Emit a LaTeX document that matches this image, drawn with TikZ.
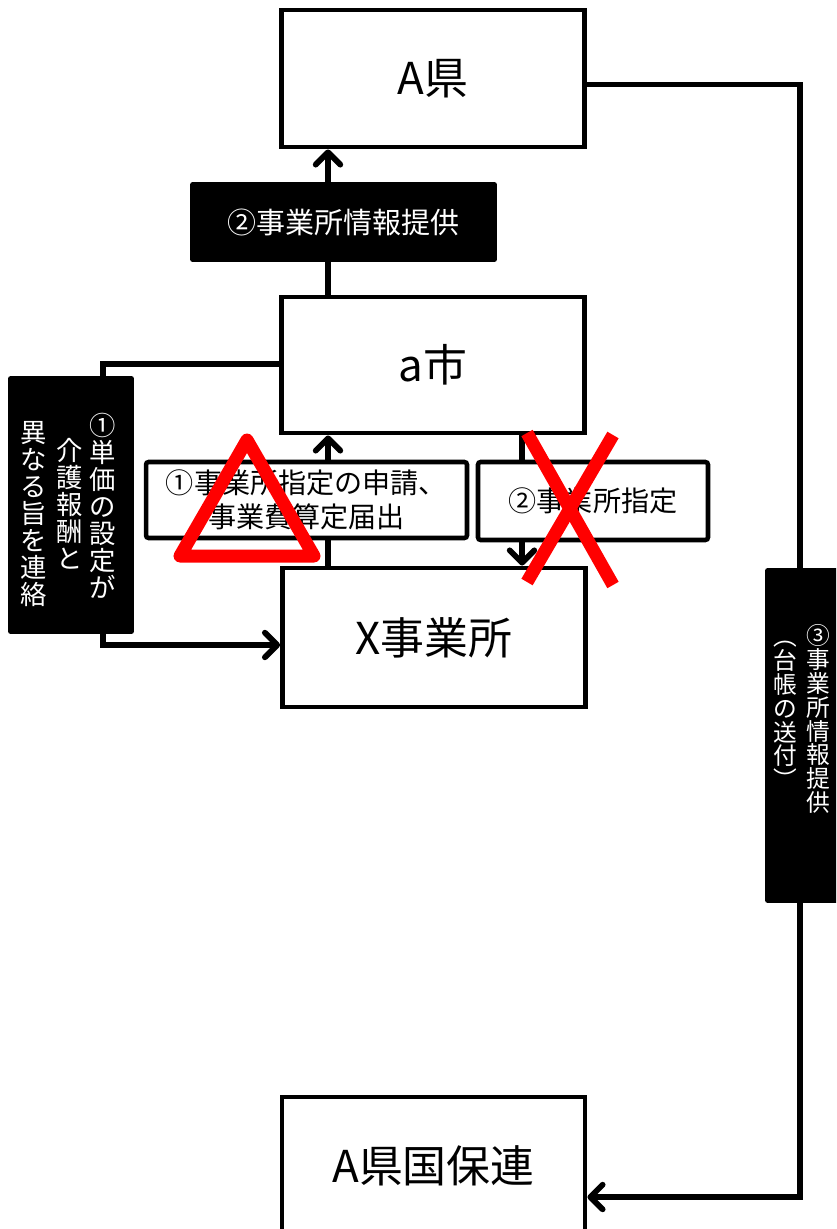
\documentclass[tikz,border=0pt]{standalone}
\usepackage{fontspec}
\setmainfont{Noto Sans CJK JP}
\usetikzlibrary{arrows.meta, calc, backgrounds}

\tikzset{
  box/.style={draw, line width=2.8pt, fill=white, minimum width=6.06cm, inner sep=0pt, font=\fontsize{25}{30}\selectfont},
  lbl/.style={draw, line width=2.6pt, fill=white, rounded corners=1.5pt, inner sep=0pt, align=center, font=\fontsize{16}{19.3}\selectfont},
  blk/.style={fill=black, text=white, rounded corners=1.5pt, inner sep=0pt},
  tate/.style={text=white, align=center, inner sep=0pt},
  conn/.style={line width=3.3pt},
  arr/.style={conn, -{Straight Barb[length=7pt,width=14pt,round]}},
  ng/.style={red, line width=7.4pt}
}

\begin{document}
\begin{tikzpicture}[x=0.02cm, y=-0.02cm]
\useasboundingbox (0,0) rectangle (836,1229);
\clip (0,0) rectangle (836,1229);

\node[box, minimum height=2.74cm] (ken) at (433,78.5) {A県};
\node[box, minimum height=2.72cm] (ashi) at (433,365) {a市};
\node[box, minimum height=2.78cm] (xjig) at (434,637.5) {X事業所};
\node[box, minimum height=2.76cm] (kokuho) at (433.5,1166) {A県国保連};

\node[blk, minimum width=6.14cm, minimum height=1.6cm, font=\fontsize{16.5}{20}\selectfont] (info) at (343.5,222) {②事業所情報提供};
\node[lbl, minimum width=6.42cm, minimum height=1.52cm] (shinsei) at (306.5,500) {①事業所指定の申請、\\事業費算定届出};
\node[lbl, minimum width=4.6cm, minimum height=1.56cm] (shitei) at (593,501) {②事業所指定};

\node[blk, minimum width=2.52cm, minimum height=5.16cm] (renraku) at (71,505) {};
\node[tate, font=\fontsize{15}{15.4}\selectfont] (renraku1) at (103,506) {①\\単\\価\\の\\設\\定\\が};
\node[tate, font=\fontsize{15}{15.4}\selectfont] (renraku2) at (70,504) {介\\護\\報\\酬\\と};
\node[tate, font=\fontsize{15}{15.4}\selectfont] (renraku3) at (34,514) {異\\な\\る\\旨\\を\\連\\絡};

\node[blk, minimum width=1.5cm, minimum height=6.7cm] (daicho) at (802.5,735.5) {};
\node[tate, font=\fontsize{13.5}{13.6}\selectfont] (daicho1) at (818,719) {③\\事\\業\\所\\情\\報\\提\\供};
\node[tate, font=\fontsize{13.5}{13.6}\selectfont] (daicho2) at (785,715) {︵\\台\\帳\\の\\送\\付\\︶};

\coordinate (bendl) at (103,364);
\coordinate (bendr) at (800,600);

\begin{pgfonlayer}{background}
\draw[arr] ($(ashi.north)+(-105,0)$) -- ($(ken.south)+(-105,0)$);
\draw[arr] ($(xjig.north)+(-106,0)$) -- ($(ashi.south)+(-105,0)$);
\draw[arr] ($(ashi.south)+(89,0)$) -- ($(xjig.north)+(88,0)$);
\draw[arr] (ashi.west |- bendl) -- (bendl) |- ($(xjig.west)+(0,7.5)$);
\draw[arr] ($(ken.east)+(0,6)$) -| (bendr) |- ($(kokuho.east)+(0,31)$);
\end{pgfonlayer}

\draw[ng, line join=round] (247,440) -- (314,556) -- (180,556) -- cycle;
\draw[ng] (527,433) -- (613,585);
\draw[ng] (613,435) -- (527,582);
\end{tikzpicture}
\end{document}
